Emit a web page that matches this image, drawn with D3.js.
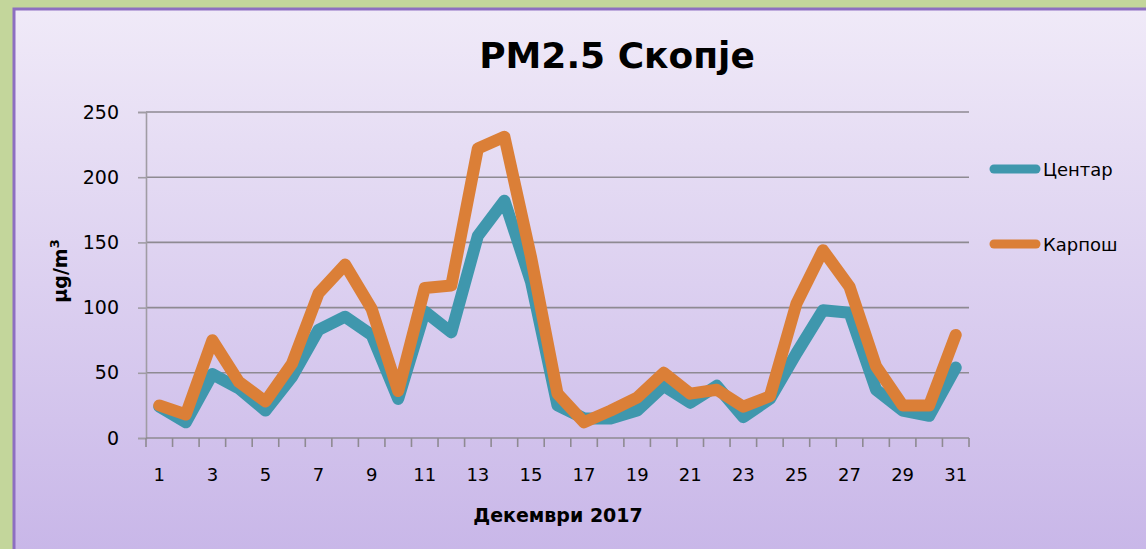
<!DOCTYPE html>
<html>
<head>
<meta charset="utf-8">
<script src="https://cdn.jsdelivr.net/npm/d3@7"></script>
<style>
  body { margin: 0; background: #c3d69b; }
  svg { display: block; }
  text { font-family: "DejaVu Sans", sans-serif; fill: #000; }
</style>
</head>
<body>
<div id="chart"></div>
<script>
// Data: days of December 2017
var days = d3.range(1, 32);
var seriesNames = ["Центар", "Карпош"];
var centar = [24, 12, 49, 38, 21, 47, 83, 93, 79, 30, 97, 81, 155, 182, 120, 25, 15, 15, 21, 40, 27, 40, 16, 30, 65, 98, 96, 37, 21, 17, 54];
var karposh = [25, 18, 75, 43, 28, 57, 111, 133, 99, 36, 115, 117, 222, 231, 139, 34, 12, 21, 31, 50, 34, 37, 24, 32, 103, 144, 116, 55, 25, 25, 79];
var yTicks = [0, 50, 100, 150, 200, 250];
var xTickLabels = days.filter(function(d) { return d % 2 === 1; });
var colors = ["#3f97ad", "#db7f37"];

var W = 1146, H = 549;
var margin = { top: 112, left: 146, right: 1146 - 969, bottom: 549 - 438 };
var width = W - margin.left - margin.right,
    height = H - margin.top - margin.bottom;

var svg = d3.select("#chart").append("svg")
    .attr("width", W)
    .attr("height", H);

// background panel with gradient
var defs = svg.append("defs");
var grad = defs.append("linearGradient")
    .attr("id", "bg").attr("x1", 0).attr("y1", 0).attr("x2", 0).attr("y2", 1);
grad.append("stop").attr("offset", "0%").attr("stop-color", "#f0eaf8");
grad.append("stop").attr("offset", "100%").attr("stop-color", "#c8b6e8");

svg.append("rect")
    .attr("x", 14).attr("y", 9)
    .attr("width", W).attr("height", H)
    .attr("fill", "url(#bg)")
    .attr("stroke", "#8d6fc1")
    .attr("stroke-width", 3);

var g = svg.append("g")
    .attr("transform", "translate(" + margin.left + "," + margin.top + ")");

var x = d3.scaleBand()
    .domain(days)
    .range([0, width]);

var y = d3.scaleLinear()
    .domain([0, 250])
    .range([height, 0]);

// gridlines
g.selectAll(".grid")
    .data(yTicks.filter(function(d) { return d > 0; }))
    .enter().append("line")
    .attr("x1", 0).attr("x2", width)
    .attr("y1", function(d) { return y(d); })
    .attr("y2", function(d) { return y(d); })
    .attr("stroke", "#8e8a92")
    .attr("stroke-width", 1.6);

// y axis
var yAxis = g.append("g")
    .call(d3.axisLeft(y).tickValues(yTicks).tickSize(8).tickPadding(19));
yAxis.select(".domain").attr("stroke", "#a09ca4").attr("stroke-width", 1.6);
yAxis.selectAll(".tick line").attr("stroke", "#a09ca4").attr("stroke-width", 1.6);
yAxis.selectAll("text")
    .style("font-size", "19px")
    .style("font-family", "DejaVu Sans, sans-serif")
    .attr("fill", "#000");

// x axis: tick marks at category boundaries
var xAxis = g.append("g")
    .attr("transform", "translate(0," + height + ")");
xAxis.append("line")
    .attr("x1", 0).attr("x2", width)
    .attr("stroke", "#8e8a92").attr("stroke-width", 1.6);
xAxis.selectAll(".xtick")
    .data(days.concat([32]))
    .enter().append("line")
    .attr("x1", function(d) { return d <= 31 ? x(d) : width; })
    .attr("x2", function(d) { return d <= 31 ? x(d) : width; })
    .attr("y1", 0).attr("y2", 9)
    .attr("stroke", "#8e8a92").attr("stroke-width", 1.6);
xAxis.selectAll(".xlabel")
    .data(xTickLabels)
    .enter().append("text")
    .attr("x", function(d) { return x(d) + x.bandwidth() / 2; })
    .attr("y", 43)
    .attr("text-anchor", "middle")
    .style("font-size", "18px")
    .text(function(d) { return d; });

// lines
var line = d3.line()
    .x(function(d, i) { return x(days[i]) + x.bandwidth() / 2; })
    .y(function(d) { return y(d); });

[centar, karposh].forEach(function(s, i) {
    g.append("path")
        .datum(s)
        .attr("d", line)
        .attr("fill", "none")
        .attr("stroke", colors[i])
        .attr("stroke-width", 12)
        .attr("stroke-linejoin", "round")
        .attr("stroke-linecap", "round");
});

// title
svg.append("text")
    .attr("x", 617).attr("y", 68)
    .attr("text-anchor", "middle")
    .style("font-size", "36px")
    .style("font-weight", "bold")
    .text("PM2.5 Скопје");

// x axis title
svg.append("text")
    .attr("x", 558).attr("y", 522)
    .attr("text-anchor", "middle")
    .style("font-size", "19px")
    .style("font-weight", "bold")
    .text("Декември 2017");

// y axis title
var yt = svg.append("text")
    .attr("transform", "translate(67,271) rotate(-90)")
    .attr("text-anchor", "middle")
    .style("font-size", "19px")
    .style("font-weight", "bold");
yt.append("tspan").text("µg/m");
yt.append("tspan").attr("dy", -8).style("font-size", "13px").text("3");

// legend
var legend = svg.selectAll(".legend")
    .data(seriesNames)
    .enter().append("g")
    .attr("transform", function(d, i) { return "translate(0," + (169 + i * 75) + ")"; });
legend.append("line")
    .attr("x1", 994).attr("x2", 1036)
    .attr("stroke", function(d, i) { return colors[i]; })
    .attr("stroke-width", 9)
    .attr("stroke-linecap", "round");
legend.append("text")
    .attr("x", 1043).attr("y", 7)
    .style("font-size", "18px")
    .text(function(d) { return d; });
</script>
</body>
</html>
